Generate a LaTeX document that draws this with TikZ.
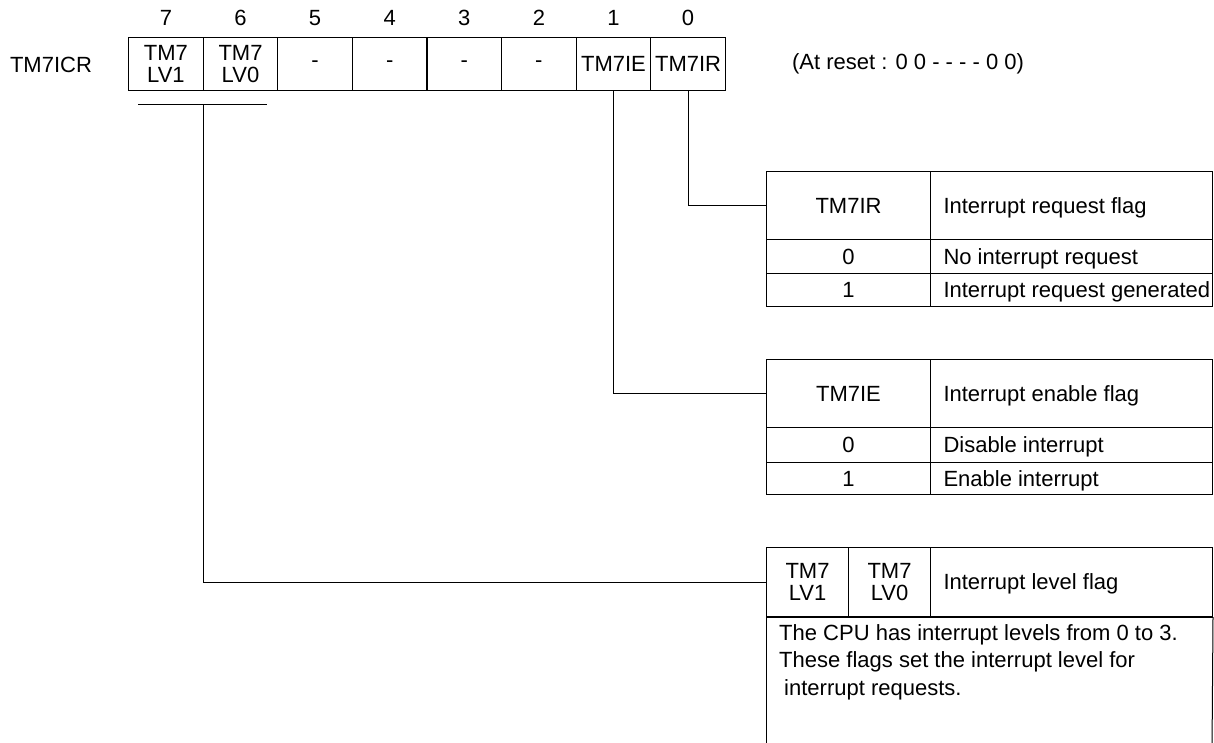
\documentclass[tikz,border=0pt]{standalone}
\usepackage{fontspec}
\setmainfont{Liberation Sans}
\newcommand{\celltxt}[1]{\raisebox{0pt}[\height][0pt]{\makebox[256pt][l]{#1}}}
\begin{document}
\begin{tikzpicture}[x=1pt,y=-1pt,
  every node/.style={font=\fontsize{22}{22}\selectfont},
  regcell/.style={draw, line width=1.2pt, inner sep=0pt, anchor=north west,
    minimum width=74.6pt, minimum height=53pt, align=center},
  tcell/.style={draw, line width=1pt, inner sep=0pt, anchor=north west, align=center},
  lcell/.style={draw, line width=1pt, inner ysep=0pt, inner xsep=13pt, anchor=north west,
    minimum width=282pt},
  conn/.style={draw, line width=1pt}]
\useasboundingbox (0,0) rectangle (1214,743);

% register
\node[anchor=center] (reg) at (51,65) {TM7ICR};
\node[regcell] (b7) at (128,37) {TM7\\LV1};
\node[regcell] (b6) at (202.6,37) {TM7\\LV0};
\node[regcell] (b5) at (277.2,37) {-};
\node[regcell] (b4) at (351.8,37) {-};
\node[regcell] (b3) at (426.4,37) {-};
\node[regcell] (b2) at (501,37) {-};
\node[regcell] (b1) at (575.6,37) {TM7IE};
\node[regcell] (b0) at (650.2,37) {TM7IR};
\foreach \b/\n in {b7/7,b6/6,b5/5,b4/4,b3/3,b2/2,b1/1,b0/0}
  \node (n\b) at (\b.north |- 0,18) {\n};
\node (reset) at (908,64) {(At reset : 0 0 - - - - 0 0)};

% TM7IR table
\node[tcell, minimum width=164pt, minimum height=68pt] (irh) at (766,171) {TM7IR};
\node[lcell, minimum height=68pt] (irhd) at (930,171) {\celltxt{Interrupt request flag}};
\node[tcell, minimum width=164pt, minimum height=34pt] (ir0) at (766,239) {0};
\node[lcell, minimum height=34pt] (ir0d) at (930,239) {\celltxt{No interrupt request}};
\node[tcell, minimum width=164pt, minimum height=33pt] (ir1) at (766,273) {1};
\node[lcell, minimum height=33pt] (ir1d) at (930,273) {\celltxt{Interrupt request generated}};

% TM7IE table
\node[tcell, minimum width=164pt, minimum height=68pt] (ieh) at (766,359) {TM7IE};
\node[lcell, minimum height=68pt] (iehd) at (930,359) {\celltxt{Interrupt enable flag}};
\node[tcell, minimum width=164pt, minimum height=35pt] (ie0) at (766,427) {0};
\node[lcell, minimum height=35pt] (ie0d) at (930,427) {\celltxt{Disable interrupt}};
\node[tcell, minimum width=164pt, minimum height=32pt] (ie1) at (766,462) {1};
\node[lcell, minimum height=32pt] (ie1d) at (930,462) {\celltxt{Enable interrupt}};

% LV table
\node[tcell, minimum width=82pt, minimum height=69pt] (lv1) at (766,547) {TM7\\LV1};
\node[tcell, minimum width=82pt, minimum height=69pt] (lv0) at (848,547) {TM7\\LV0};
\node[lcell, minimum height=69pt] (lvd) at (930,547) {\celltxt{Interrupt level flag}};
\node[anchor=north west, align=left, inner sep=0pt,
  font=\fontsize{22}{27.5}\selectfont] (lvtext) at (779,624)
  {The CPU has interrupt levels from 0 to 3.\\These flags set the interrupt level for\\\hspace{5pt}interrupt requests.};
\coordinate (lvbotL) at (766,750);
\coordinate (lvbotR) at (1212,750);
\draw[line width=1pt] (lv1.south west) -- (lvbotL);
\draw[line width=1pt] (lvd.south east) -- (lvbotR);
\draw[line width=1.8pt] (lv1.south west) -- (lvd.south east);

% connectors
\coordinate (lvL) at (138,105);
\coordinate (lvR) at (267,105);
\draw[conn] (lvL) -- (lvR);
\draw[conn] (b7.south east |- lvL) |- (lv1.west);
\draw[conn] (b1.south) |- (ieh.west);
\draw[conn] (b0.south) |- (irh.west);
\end{tikzpicture}
\end{document}
